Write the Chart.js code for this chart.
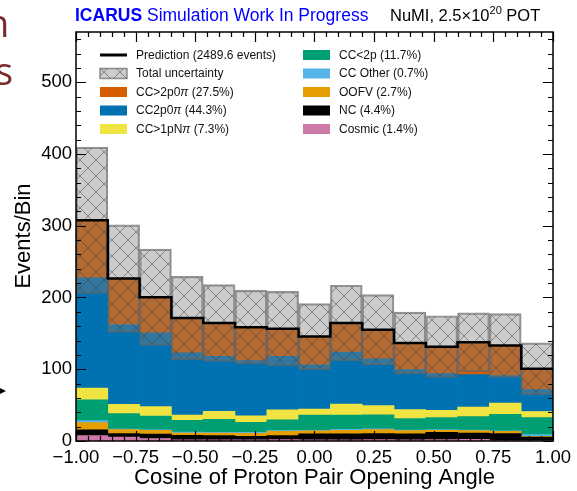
<!DOCTYPE html>
<html>
<head>
<meta charset="utf-8">
<script src="https://cdn.jsdelivr.net/npm/chart.js@4.4.1/dist/chart.umd.min.js"></script>
<style>
  html, body { margin: 0; padding: 0; background: #fff; }
  #wrap { position: relative; width: 577px; height: 491px; overflow: hidden; font-family: "Liberation Sans", Arial, sans-serif; }
  #wrap canvas { position: absolute; left: 0; top: 0; }
  .head { position: absolute; top: 5px; font-size: 17.5px; white-space: nowrap; }
  .head sup { font-size: 11px; vertical-align: 7px; line-height: 0; }
  #ylab { position: absolute; left: -77px; top: 223px; width: 200px; text-align: center; font-size: 22px; line-height: 26px; transform: rotate(-90deg); color: #000; }
  .cut { position: absolute; color: #7a2a2a; font-family: "Open Sans", sans-serif; font-size: 38px; line-height: 38px; }
  #arrow { position: absolute; left: 0; top: 388px; width: 0; height: 0; border-top: 3px solid transparent; border-bottom: 3px solid transparent; border-left: 6px solid #000; }
</style>
</head>
<body>
<div id="wrap">
  <canvas id="chart" width="577" height="491"></canvas>
  <div class="head" style="left:75px;color:#0000ff"><b>ICARUS</b> Simulation Work In Progress</div>
  <div class="head" style="left:390px;color:#000;font-size:16.5px;top:6px">NuMI, 2.5×10<sup>20</sup> POT</div>
  <div id="ylab">Events/Bin</div>
  <span class="cut" style="left:-14px;top:3px">n</span>
  <span class="cut" style="left:-5px;top:51px">s</span>
  <div id="arrow"></div>
</div>
<script>
// bin edges in cos(opening angle), 15 bins
const binEdges = [-1, -0.8667, -0.7333, -0.6, -0.4667, -0.3333, -0.2, -0.0667,
                  0.0667, 0.2, 0.3333, 0.4667, 0.6, 0.7333, 0.8667, 1];

// events per bin for each category, bottom of the stack first
const cosmic    = [7.5, 5.5, 3.5, 1.5, 1.5, 1.5, 2, 1.5, 1.5, 2, 1.5, 2, 2.5, 0.5, 0.5];
const nc        = [8, 5, 6, 6.5, 6, 5, 5.5, 8.5, 8.5, 8.5, 8.5, 10, 8.5, 10, 5];
const oofv      = [10.1, 5.5, 5.5, 3, 3.5, 4.3, 6, 4, 5, 5.3, 4.5, 3, 3.5, 3, 1];
const ccOther   = [2.7, 0.6, 0.6, 1.3, 1.1, 1.3, 1.1, 1, 1.1, 1, 0.8, 0.8, 0.8, 0.8, 2.4];
const ccLess2p  = [29, 21.5, 19, 16.4, 18, 14, 14.8, 21, 20, 19.5, 16, 17, 18.6, 22.8, 23.7];
const cc1pNpi   = [16.5, 13, 13.3, 7.5, 11.2, 8.9, 14, 8.5, 15.5, 13.1, 12.5, 9.8, 13.5, 15.9, 8.5];
const cc2p0pi   = [153.7, 111.2, 102.9, 86.8, 76.7, 77, 74.6, 61.5, 72.4, 65.2, 55.8, 51.4, 45.2, 38, 30.5];
const ccGt2p0pi = [80.1, 64, 49.5, 48.5, 46.5, 46.5, 38.5, 39.5, 40.5, 40.5, 36.9, 37.5, 44.9, 42.1, 29.1];

// total (stat + syst) uncertainty per bin
const totalUnc = [102, 75, 67, 58, 53.5, 51.5, 52, 46, 52.5, 49, 43, 43, 41, 44.4, 36];

const components = [
  { label: 'Cosmic',   pct: '1.4%',  color: '#CC79A7', values: cosmic },
  { label: 'NC',       pct: '4.4%',  color: '#000000', values: nc },
  { label: 'OOFV',     pct: '2.7%',  color: '#E69F00', values: oofv },
  { label: 'CC Other', pct: '0.7%',  color: '#56B4E9', values: ccOther },
  { label: 'CC<2p',    pct: '11.7%', color: '#009E73', values: ccLess2p },
  { label: 'CC>1pNπ',  pct: '7.3%',  color: '#F0E442', values: cc1pNpi },
  { label: 'CC2p0π',   pct: '44.3%', color: '#0072B2', values: cc2p0pi },
  { label: 'CC>2p0π',  pct: '27.5%', color: '#D55E00', values: ccGt2p0pi }
];

const binCenters = binEdges.slice(0, -1).map((e, i) => (e + binEdges[i + 1]) / 2);
const totals = binCenters.map((_, i) => components.reduce((s, c) => s + c.values[i], 0));
const totalEvents = totals.reduce((s, v) => s + v, 0);

const canvas = document.getElementById('chart');
const ctx = canvas.getContext('2d');

// grey "xx" hatch used for the uncertainty band
function makeHatch() {
  const size = 16;
  const tile = document.createElement('canvas');
  tile.width = tile.height = size;
  const g = tile.getContext('2d');
  g.fillStyle = 'rgba(128,128,128,0.4)';
  g.fillRect(0, 0, size, size);
  g.strokeStyle = 'rgba(60,60,60,0.5)';
  g.lineWidth = 1;
  g.beginPath();
  g.moveTo(0, 0); g.lineTo(size, size);
  g.moveTo(0, size); g.lineTo(size, 0);
  g.stroke();
  return ctx.createPattern(tile, 'repeat');
}
const hatch = makeHatch();
const bandEdge = 'rgba(100,100,100,0.7)';

const legendCols = [
  { swatchX: 100, textX: 136, rows: [
    { kind: 'line', text: 'Prediction (' + totalEvents.toFixed(1) + ' events)' },
    { kind: 'band', text: 'Total uncertainty' },
    components[7], components[6], components[5]
  ] },
  { swatchX: 303, textX: 339, rows: [
    components[4], components[3], components[2], components[1], components[0]
  ] }
];

const legendFont = '12px "Liberation Sans", Arial, sans-serif';

function drawLabel(g, text, x, y) {
  // pi is set in italics, the rest upright
  const parts = text.split('π');
  let cx = x;
  parts.forEach((p, i) => {
    g.font = legendFont;
    g.fillText(p, cx, y);
    cx += g.measureText(p).width;
    if (i < parts.length - 1) {
      g.font = 'italic ' + legendFont;
      g.fillText('π', cx, y);
      cx += g.measureText('π').width;
    }
  });
}

const frameAndLegend = {
  id: 'frameAndLegend',
  afterDatasetsDraw(chart) {
    const { ctx: g, chartArea: a, scales: { x, y } } = chart;
    g.save();
    g.strokeStyle = '#000';
    g.lineWidth = 1.2;
    g.beginPath();
    for (let i = 0; i <= 40; i++) {
      const px = Math.round(x.getPixelForValue(-1 + i * 0.05)) + 0.5;
      const len = i % 5 === 0 ? 10 : 5;
      g.moveTo(px, a.bottom); g.lineTo(px, a.bottom - len);
      g.moveTo(px, a.top); g.lineTo(px, a.top + len);
    }
    for (let v = 0; v <= 560; v += 20) {
      const py = Math.round(y.getPixelForValue(v)) + 0.5;
      const len = v % 100 === 0 ? 10 : 5;
      g.moveTo(a.left, py); g.lineTo(a.left + len, py);
      g.moveTo(a.right, py); g.lineTo(a.right - len, py);
    }
    g.stroke();
    g.lineWidth = 1.5;
    g.strokeRect(a.left, a.top, a.right - a.left, a.bottom - a.top);
    g.restore();
  },
  afterDraw(chart) {
    const g = chart.ctx;
    g.save();
    g.textBaseline = 'middle';
    legendCols.forEach(col => {
      col.rows.forEach((row, r) => {
        const cy = 55 + r * 18.5;
        if (row.kind === 'line') {
          g.fillStyle = '#000';
          g.fillRect(col.swatchX, cy - 1.5, 27, 3);
        } else if (row.kind === 'band') {
          g.fillStyle = '#fff';
          g.fillRect(col.swatchX, cy - 5, 27, 10);
          g.fillStyle = hatch;
          g.fillRect(col.swatchX, cy - 5, 27, 10);
          g.strokeStyle = bandEdge;
          g.lineWidth = 1.5;
          g.strokeRect(col.swatchX, cy - 5, 27, 10);
        } else {
          g.fillStyle = row.color;
          g.fillRect(col.swatchX, cy - 5, 27, 10);
        }
        g.fillStyle = '#111';
        const text = row.text || (row.label + ' (' + row.pct + ')');
        drawLabel(g, text, col.textX, cy + 0.5);
      });
    });
    g.restore();
  }
};

const barOpts = { barPercentage: 1, categoryPercentage: 1, grouped: false };

const datasets = [
  {
    type: 'line', label: 'Prediction', xAxisID: 'x2', yAxisID: 'y2',
    data: binEdges.map((e, i) => ({ x: e, y: totals[Math.min(i, totals.length - 1)] })),
    stepped: 'before', borderColor: '#000', borderWidth: 2.5, pointRadius: 0, fill: false
  },
  {
    type: 'bar', label: 'Total uncertainty', xAxisID: 'x2', yAxisID: 'y2',
    data: binCenters.map((c, i) => ({ x: c, y: [totals[i] - totalUnc[i], totals[i] + totalUnc[i]] })),
    backgroundColor: hatch, borderColor: bandEdge, borderWidth: 1.5, borderSkipped: false,
    ...barOpts
  },
  ...components.map(c => ({
    type: 'bar', label: c.label, xAxisID: 'x', yAxisID: 'y',
    data: binCenters.map((x, i) => ({ x, y: c.values[i] })),
    backgroundColor: c.color, borderWidth: 0, ...barOpts
  }))
];

Chart.defaults.font.family = '"Liberation Sans", Arial, sans-serif';
Chart.defaults.color = '#000';

new Chart(ctx, {
  type: 'bar',
  data: { datasets },
  options: {
    responsive: false,
    animation: false,
    layout: { padding: { top: 32, right: 21, left: 0, bottom: 0 } },
    plugins: { legend: { display: false }, tooltip: { enabled: false }, title: { display: false } },
    scales: {
      x: {
        type: 'linear', min: -1, max: 1, stacked: true, offset: false,
        grid: { display: false, drawTicks: false }, border: { display: false },
        ticks: {
          stepSize: 0.25, autoSkip: false, maxRotation: 0, padding: 6,
          font: { size: 18.5 }, color: '#000',
          callback: v => (v < -1e-9 ? '\u2212' : '') + Math.abs(v).toFixed(2)
        },
        title: {
          display: true, text: 'Cosine of Proton Pair Opening Angle',
          font: { size: 22 }, color: '#000', padding: { top: 0, bottom: 0 }
        },
        afterFit: s => { s.height = 50; }
      },
      y: {
        type: 'linear', min: 0, max: 570, stacked: true,
        grid: { display: false, drawTicks: false }, border: { display: false },
        ticks: { stepSize: 100, padding: 4, font: { size: 18.5 }, color: '#000' },
        afterBuildTicks: s => { s.ticks = s.ticks.filter(t => t.value % 100 === 0); },
        afterFit: s => { s.width = 76; }
      },
      x2: { type: 'linear', display: false, min: -1, max: 1, offset: false, ticks: { stepSize: 0.25 } },
      y2: { type: 'linear', display: false, min: 0, max: 570 }
    }
  },
  plugins: [frameAndLegend]
});
</script>
</body>
</html>
